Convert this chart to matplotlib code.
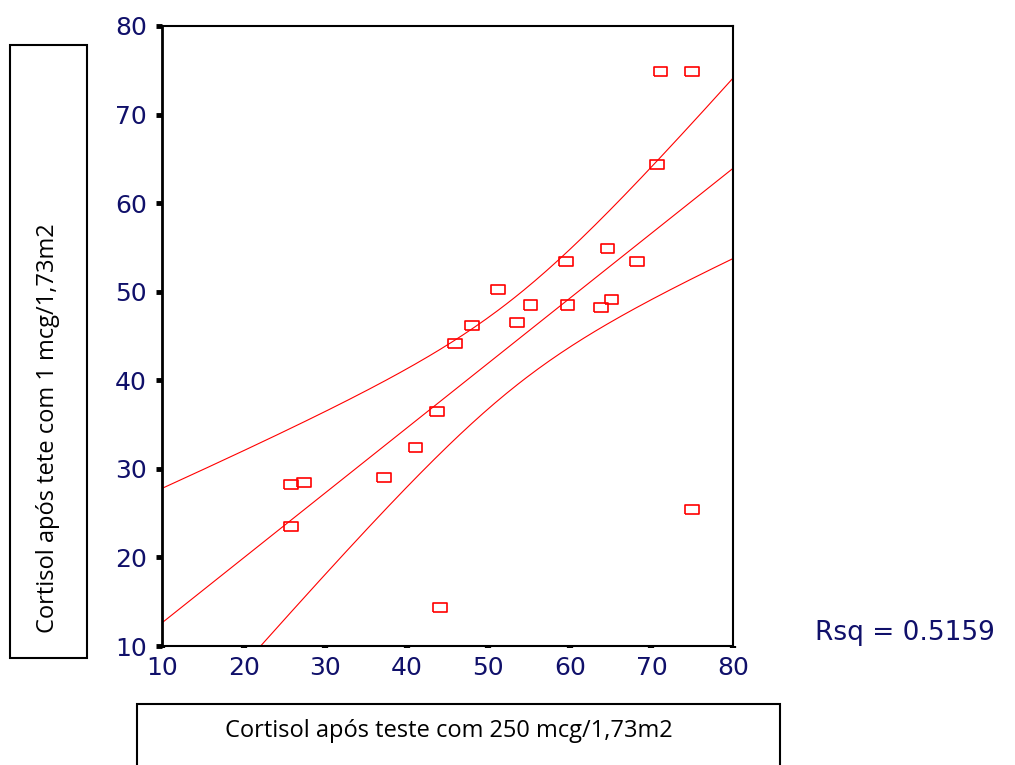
import numpy as np
import matplotlib
matplotlib.use("Agg")
import matplotlib.pyplot as plt
from matplotlib.patches import Rectangle

# cortisol after 250 mcg test (x) vs after 1 mcg test (y)
cort_250 = [25.8, 27.4, 25.8, 37.2, 41.1, 43.7, 44.1, 45.9, 48.0, 51.2, 53.5,
            55.2, 59.5, 59.7, 63.8, 64.6, 65.1, 68.2, 70.7, 71.1, 75.0, 75.0]
cort_1 = [28.2, 28.5, 23.5, 29.0, 32.4, 36.5, 14.3, 44.2, 46.2, 50.2, 46.5,
          48.5, 53.4, 48.5, 48.2, 54.9, 49.1, 53.4, 64.4, 74.9, 74.9, 25.4]
ticks = [10, 20, 30, 40, 50, 60, 70, 80]
T95 = 2.086  # t(0.975, df=20)

x = np.array(cort_250); y = np.array(cort_1)
b, a = np.polyfit(x, y, 1)
n = len(x); resid = y - (a + b * x)
s = np.sqrt((resid ** 2).sum() / (n - 2))
xs = np.linspace(10, 80, 200)
fit = a + b * xs
se = s * np.sqrt(1 / n + (xs - x.mean()) ** 2 / ((x - x.mean()) ** 2).sum())

W, H = 1015, 765
fig = plt.figure(figsize=(W / 100, H / 100), dpi=100)
ax = fig.add_axes([162 / W, 1 - 646 / H, (733 - 162) / W, (646 - 26) / H])

ax.plot(xs, fit, c="red", lw=0.8)
ax.plot(xs, fit + T95 * se, c="red", lw=0.8)
ax.plot(xs, fit - T95 * se, c="red", lw=0.8)
box = [(-1.5, -1), (1.5, -1), (1.5, 1), (-1.5, 1), (-1.5, -1)]
ax.scatter(x, y, marker=box, s=95, facecolors="none", edgecolors="red", lw=1.2, zorder=3)

ax.set_xlim(10, 80); ax.set_ylim(10, 80)
ax.set_xticks(ticks); ax.set_yticks(ticks)
for sp in ax.spines.values():
    sp.set_linewidth(1.5)
ax.spines["left"].set_linewidth(2)
navy = "#10106a"
ax.tick_params(axis="y", direction="out", length=4, width=3.5, pad=7,
               labelsize=18, labelcolor=navy)
ax.tick_params(axis="x", direction="out", length=1.5, width=4.5, pad=6,
               labelsize=18, labelcolor=navy)

# label boxes
fig.patches.append(Rectangle((10 / W, 1 - 658 / H), 77 / W, 613 / H, transform=fig.transFigure,
                             fill=False, ec="black", lw=1.5))
fig.text(48 / W, 1 - 428 / H, "Cortisol após tete com 1 mcg/1,73m2", rotation=90,
         ha="center", va="center", fontsize=17, family="Open Sans")
fig.patches.append(Rectangle((137 / W, -0.05), 643 / W, 0.05 + (765 - 704) / H,
                             transform=fig.transFigure, fill=False, ec="black", lw=1.5))
fig.text(449 / W, 1 - 731 / H, "Cortisol após teste com 250 mcg/1,73m2",
         ha="center", va="center", fontsize=17, family="Open Sans")

fig.text(815 / W, 1 - 633 / H, f"Rsq = {0.5159:.4f}", ha="left", va="center",
         fontsize=19, color=navy)

fig.savefig("out.png", dpi=100)
